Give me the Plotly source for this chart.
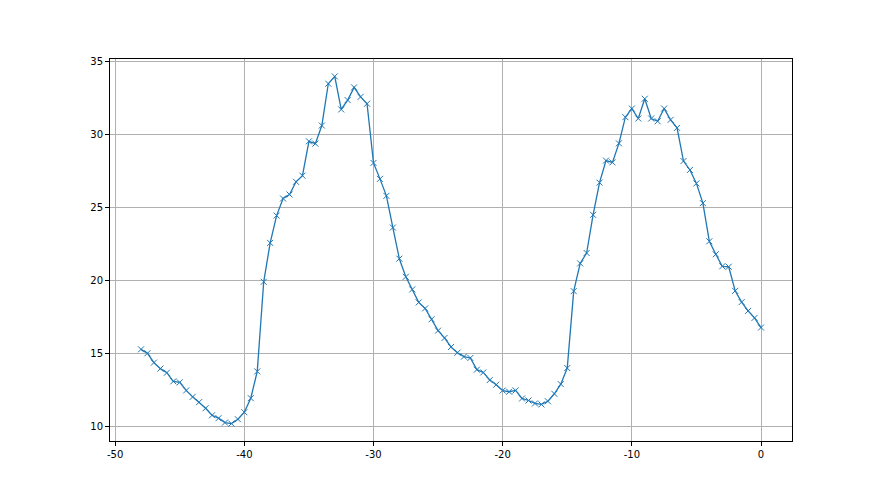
import plotly.graph_objects as go

x_values = [i * 0.5 - 48 for i in range(97)]
y_values = [
    15.30, 15.03, 14.39, 13.98, 13.70, 13.11, 13.04, 12.49, 12.05, 11.69,
    11.27, 10.79, 10.59, 10.29, 10.22, 10.52, 11.00, 11.96, 13.79, 19.92,
    22.58, 24.45, 25.62, 25.89, 26.76, 27.18, 29.53, 29.37, 30.61, 33.47,
    33.97, 31.71, 32.35, 33.22, 32.57, 32.10, 28.05, 26.96, 25.80, 23.63,
    21.50, 20.26, 19.40, 18.51, 18.10, 17.36, 16.58, 16.08, 15.46, 15.07,
    14.80, 14.71, 13.91, 13.72, 13.20, 12.88, 12.48, 12.40, 12.49, 11.94,
    11.80, 11.60, 11.53, 11.75, 12.26, 12.92, 14.02, 19.28, 21.18, 21.89,
    24.50, 26.70, 28.21, 28.09, 29.39, 31.18, 31.77, 31.09, 32.44, 31.09,
    30.90, 31.77, 31.00, 30.45, 28.18, 27.57, 26.65, 25.30, 22.69, 21.80,
    20.98, 20.95, 19.30, 18.53, 17.93, 17.45, 16.79,
]
x_ticks = [-50, -40, -30, -20, -10, 0]
y_ticks = [10, 15, 20, 25, 30, 35]

fig = go.Figure()
fig.add_trace(go.Scatter(
    x=x_values, y=y_values, mode="lines+markers",
    line=dict(color="#1f77b4", width=1.3),
    marker=dict(symbol="x-thin", size=6, line=dict(color="#1f77b4", width=1)),
    showlegend=False,
))

axis_common = dict(
    showline=True, linecolor="black", linewidth=1, mirror=True,
    ticks="outside", ticklen=4, tickcolor="black", tickwidth=1,
    showgrid=True, gridcolor="#b0b0b0", gridwidth=0.8,
    zeroline=False, tickfont=dict(family="DejaVu Sans", size=10, color="black"),
)
fig.update_xaxes(range=[-50.4, 2.4], tickvals=x_ticks, ticktext=[str(t) for t in x_ticks], **axis_common)
fig.update_yaxes(range=[9.03, 35.16], tickvals=y_ticks, ticktext=[str(t) for t in y_ticks], **axis_common)

fig.update_layout(
    width=872, height=487,
    margin=dict(l=102, r=88, t=51, b=54),
    plot_bgcolor="white", paper_bgcolor="white",
)
fig.write_html("out.html")
